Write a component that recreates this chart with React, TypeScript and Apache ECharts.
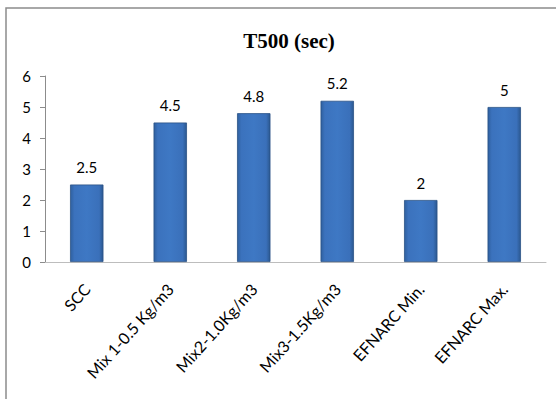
import React, { useEffect, useRef } from "react";
import * as echarts from "echarts";

const categories = ["SCC", "Mix 1-0.5 Kg/m3", "Mix2-1.0Kg/m3", "Mix3-1.5Kg/m3", "EFNARC Min.", "EFNARC Max."];
const values = [2.5, 4.5, 4.8, 5.2, 2, 5];
const titleText = "T500 (sec)";

export default function App() {
  const ref = useRef<HTMLDivElement>(null);
  useEffect(() => {
    const chart = echarts.init(ref.current!, undefined, { renderer: "svg" });
    const barColor = new echarts.graphic.LinearGradient(0, 0, 1, 0, [
      { offset: 0, color: "#2f609f" },
      { offset: 0.12, color: "#3b72bd" },
      { offset: 0.5, color: "#3e78c4" },
      { offset: 0.88, color: "#3a70ba" },
      { offset: 1, color: "#2b5890" },
    ]);
    chart.setOption({
      animation: false,
      backgroundColor: "#ffffff",
      title: {
        text: titleText,
        left: 284,
        textAlign: "center",
        top: 25,
        textStyle: { fontFamily: "Liberation Serif", fontWeight: "bold", fontSize: 21, color: "#000" },
      },
      graphic: [
        {
          type: "rect",
          shape: { x: 6, y: 8, width: 600, height: 450 },
          style: { fill: "none", stroke: "#8c8c8c", lineWidth: 1.5 },
          silent: true,
        },
      ],
      grid: { left: 45, right: 10, top: 76, bottom: 137, containLabel: false },
      xAxis: {
        type: "category",
        data: categories,
        axisLine: { lineStyle: { color: "#bdbdbd", width: 1 } },
        axisTick: { show: false },
        axisLabel: {
          rotate: 48,
          interval: 0,
          margin: 24,
          fontFamily: "Lato",
          fontSize: 16,
          color: "#000",
        },
      },
      yAxis: {
        type: "value",
        min: 0,
        max: 6,
        interval: 1,
        splitLine: { show: false },
        axisLine: { show: true, lineStyle: { color: "#8c8c8c" } },
        axisTick: { show: true, length: 5, lineStyle: { color: "#8c8c8c" } },
        axisLabel: { margin: 14, fontFamily: "Lato", fontSize: 15, color: "#000" },
      },
      series: [
        {
          type: "bar",
          data: values,
          barWidth: "40%",
          itemStyle: { color: barColor, borderColor: "#2a5285", borderWidth: 0.8 },
          label: {
            show: true,
            position: "top",
            distance: 10,
            fontFamily: "Lato",
            fontSize: 15,
            color: "#000",
          },
        },
      ],
    });
    return () => chart.dispose();
  }, []);
  return <div ref={ref} style={{ width: 556, height: 399, position: "absolute", left: 0, top: 0 }} />;
}
